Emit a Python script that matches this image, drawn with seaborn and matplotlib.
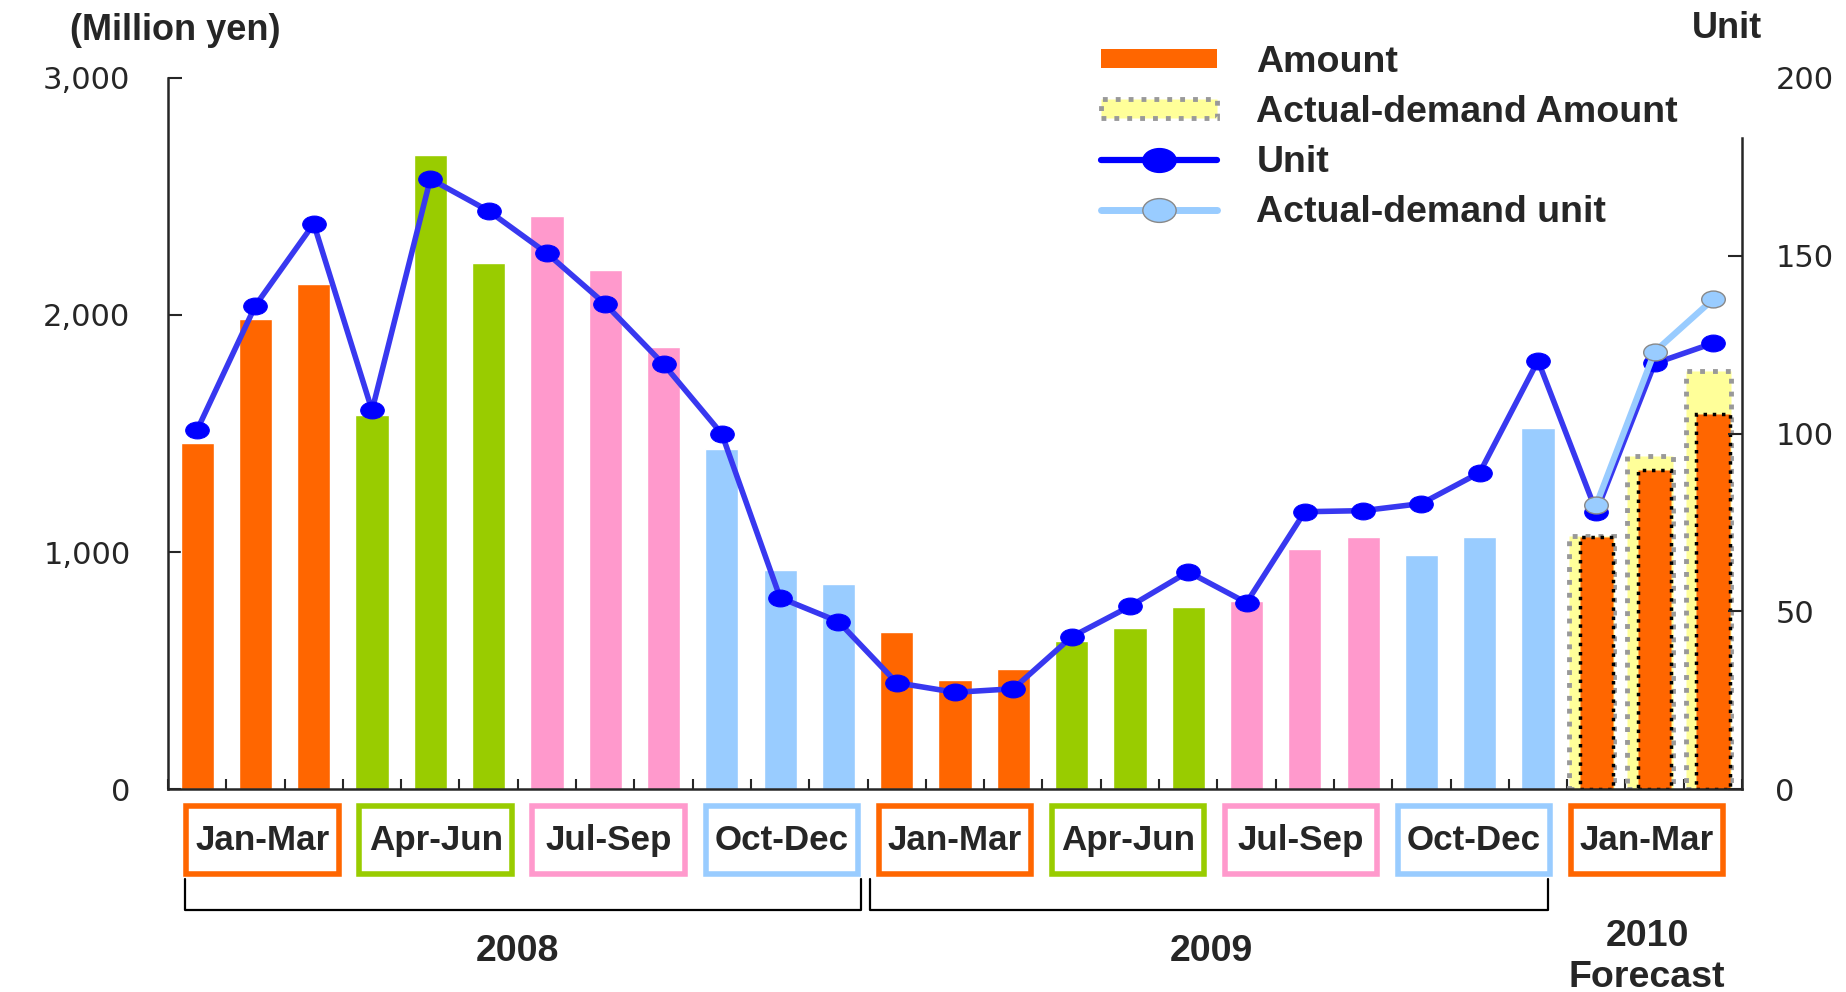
import numpy as np
import pandas as pd
import matplotlib
matplotlib.use('Agg')
import matplotlib.pyplot as plt
import matplotlib.font_manager as fm
import matplotlib.transforms as mtransforms
from matplotlib.patches import Rectangle, Patch
from matplotlib.lines import Line2D
from matplotlib.path import Path
from matplotlib.ticker import StrMethodFormatter
import seaborn as sns

months = ['2008-01', '2008-02', '2008-03', '2008-04', '2008-05', '2008-06',
          '2008-07', '2008-08', '2008-09', '2008-10', '2008-11', '2008-12',
          '2009-01', '2009-02', '2009-03', '2009-04', '2009-05', '2009-06',
          '2009-07', '2009-08', '2009-09', '2009-10', '2009-11', '2009-12',
          '2010-01', '2010-02', '2010-03']
quarter_labels = ['Jan-Mar', 'Apr-Jun', 'Jul-Sep', 'Oct-Dec',
                  'Jan-Mar', 'Apr-Jun', 'Jul-Sep', 'Oct-Dec', 'Jan-Mar']
amount = [1460, 1982, 2131, 1580, 2673, 2221, 2419, 2191, 1863, 1436, 924, 864,
          661, 462, 507, 626, 681, 770, 795, 1013, 1063, 989, 1063, 1525,
          1063, 1346, 1582]
actual_amount = [1068, 1405, 1764]
unit = [101, 136, 159, 106.5, 171.6, 162.6, 150.7, 136.4, 119.5, 99.9, 53.8, 47.1,
        29.9, 27.2, 28.2, 42.8, 51.4, 61.1, 52.4, 78, 78.3, 80.3, 89, 120.5,
        78, 119.7, 125.4]
actual_unit = [80, 123, 137.7]
years = ['2008', '2009', '2010\nForecast']

colors = {'Jan-Mar': '#FF6600', 'Apr-Jun': '#99CC00',
          'Jul-Sep': '#FF99CC', 'Oct-Dec': '#99CCFF'}

sns.set_style('ticks')
names = {f.name for f in fm.fontManager.ttflist}
narrow = 'Liberation Sans Narrow' if 'Liberation Sans Narrow' in names else 'Liberation Sans'
k = 1.0 if narrow == 'Liberation Sans Narrow' else 0.87
plt.rcParams['font.family'] = ['DejaVu Sans']

bar_quarter = [q for q in quarter_labels for _ in range(3)]
df = pd.DataFrame({'month': months, 'amount': amount, 'quarter': bar_quarter})
idx = np.arange(len(months))
n_fc = len(actual_amount)
fc_idx = idx[-n_fc:]

fig = plt.figure(figsize=(18.46, 9.92), dpi=100)
ax = fig.add_axes([0.091, 0.2046, 0.8527, 0.7168])

# actual-demand amount (behind)
yellow = ax.bar(fc_idx - 0.08, actual_amount, width=0.78, color='#FFFF99',
                edgecolor='#999999', linestyle=':', linewidth=3.5)
sns.barplot(data=df, x='month', y='amount', hue='quarter', palette=colors,
            dodge=False, width=0.57, saturation=1, legend=False, ax=ax)
for p in ax.patches:
    if p in list(yellow):
        continue
    c = p.get_x() + p.get_width() / 2
    if c > fc_idx[0] - 0.5:
        p.set_edgecolor('black')
        p.set_linestyle(':')
        p.set_linewidth(2.5)

ax.set_xlim(-0.5, len(months) - 0.5)
ax.set_ylim(0, 3000)
ax.set_yticks([0, 1000, 2000, 3000])
ax.yaxis.set_major_formatter(StrMethodFormatter('{x:,.0f}'))
ax.set_xticks(np.arange(-0.5, len(months)))
ax.set_xticklabels([])
ax.set_xlabel('')
ax.set_ylabel('')
ax.tick_params(axis='y', direction='in', length=10, width=1.5, pad=27, labelsize=22)
ax.tick_params(axis='x', direction='in', length=7, width=1.5)
for s in ['top', 'right']:
    ax.spines[s].set_visible(False)
for s in ['left', 'bottom']:
    ax.spines[s].set_linewidth(1.8)

# units on right axis
ax2 = ax.twinx()
circ = Path.unit_circle()
ellipse = Path(circ.vertices * np.array([1.4, 1.0]), circ.codes)
sns.lineplot(x=idx, y=unit, ax=ax2, color='#3838F0', linewidth=4,
             marker=ellipse, markersize=17, markerfacecolor='#0000FF',
             markeredgecolor='#0000FF')
sns.lineplot(x=fc_idx, y=actual_unit, ax=ax2, color='#99CCFF', linewidth=4.5,
             marker=ellipse, markersize=17, markerfacecolor='#99CCFF',
             markeredgecolor='#888888', markeredgewidth=1)
ax2.set_ylim(0, 200)
ax2.set_yticks([0, 50, 100, 150, 200])
ax2.set_ylabel('')
ax2.tick_params(axis='y', direction='in', length=10, width=1.5, pad=24, labelsize=22)
ax2.yaxis.get_major_ticks()[-1].tick2line.set_visible(False)
for s in ['top', 'left', 'bottom']:
    ax2.spines[s].set_visible(False)
ax2.spines['right'].set_linewidth(1.8)
ax2.spines['right'].set_bounds(0, 183)

# quarter boxes and year brackets under the axis
tr = mtransforms.blended_transform_factory(ax.transData, ax.transAxes)
for q, lab in enumerate(quarter_labels):
    cx = 1.126 + q * 2.968
    ax.add_patch(Rectangle((cx - 1.31, -0.1195), 2.62, 0.0955, transform=tr,
                           facecolor='white', edgecolor=colors[lab],
                           linewidth=4, clip_on=False))
    ax.text(cx, -0.072, lab, transform=tr, ha='center', va='center',
            fontsize=29 * k, fontweight='bold', family=narrow)

for x0, x1 in [(-0.21, 11.39), (11.54, 23.17)]:
    ax.plot([x0, x0, x1, x1], [-0.1266, -0.170, -0.170, -0.1266], transform=tr,
            color='black', linewidth=1.6, clip_on=False)

ax.text(5.5, -0.228, years[0], transform=tr, ha='center', va='center',
        fontsize=31 * k, fontweight='bold', family=narrow)
ax.text(17.4, -0.228, years[1], transform=tr, ha='center', va='center',
        fontsize=31 * k, fontweight='bold', family=narrow)
ax.text(24.87, -0.236, years[2], transform=tr, ha='center', va='center',
        fontsize=31 * k, fontweight='bold', family=narrow, linespacing=1.2)

fig.text(175 / 1846, 1 - 31 / 992, '(Million yen)', ha='center', va='center',
         fontsize=26, fontweight='bold', family='Liberation Sans')
fig.text(1727 / 1846, 1 - 28 / 992, 'Unit', ha='center', va='center',
         fontsize=26, fontweight='bold', family='Liberation Sans')

handles = [
    Patch(facecolor='#FF6600', edgecolor='none'),
    Patch(facecolor='#FFFF99', edgecolor='#999999', linestyle=':', linewidth=3.5),
    Line2D([], [], color='#0000FF', linewidth=4.5, marker=ellipse, markersize=24,
           markerfacecolor='#0000FF', markeredgecolor='#0000FF'),
    Line2D([], [], color='#99CCFF', linewidth=5, marker=ellipse, markersize=24,
           markerfacecolor='#99CCFF', markeredgecolor='#888888', markeredgewidth=1),
]
labels = ['Amount', 'Actual-demand Amount', 'Unit', 'Actual-demand unit']
fig.legend(handles, labels, loc='upper left', bbox_to_anchor=(0.5964, 0.955),
           frameon=False, borderpad=0, borderaxespad=0, handlelength=3.1,
           handleheight=0.4, handletextpad=1.05, labelspacing=0.4,
           prop={'family': narrow, 'weight': 'bold', 'size': 31 * k})

fig.savefig('out.png', dpi=100)
